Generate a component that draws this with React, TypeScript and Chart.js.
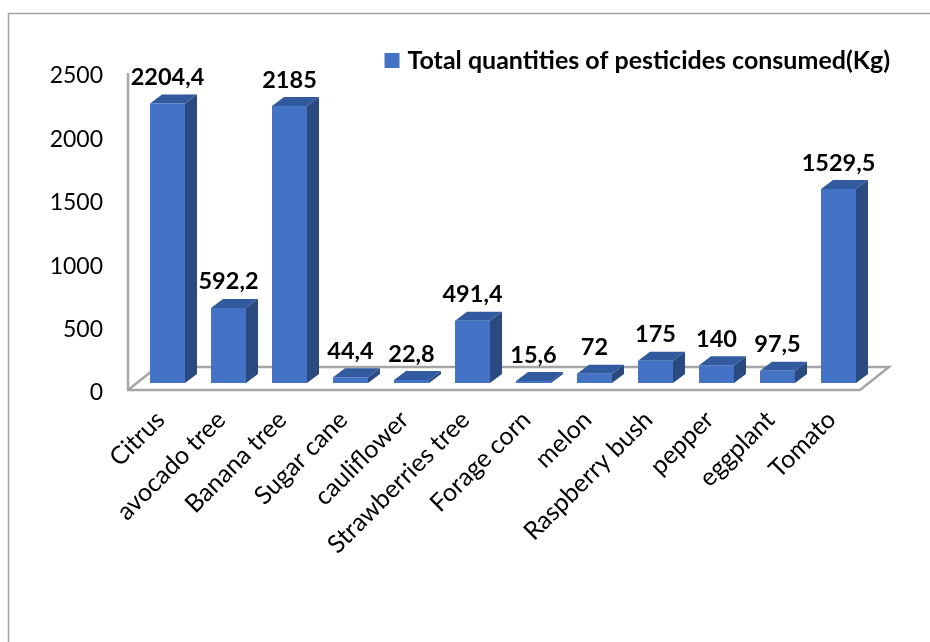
import React, { useEffect, useRef } from "react";
import { Chart, registerables } from "chart.js";

Chart.register(...registerables);

const categories = [
  "Citrus", "avocado tree", "Banana tree", "Sugar cane", "cauliflower", "Strawberries tree",
  "Forage corn", "melon", "Raspberry bush", "pepper", "eggplant", "Tomato",
];
const quantities = [2204.4, 592.2, 2185, 44.4, 22.8, 491.4, 15.6, 72, 175, 140, 97.5, 1529.5];
const seriesName = "Total quantities of pesticides consumed(Kg)";

const FONT = "Lato";
const DEPTH_X = 12;
const DEPTH_Y = 9;

const scene = {
  id: "scene",
  afterLayout(chart: any) {
    const lg = chart.legend;
    if (lg) {
      const h = lg.bottom - lg.top;
      lg.top = 43;
      lg.bottom = 43 + h;
      lg.left += 26;
      lg.right += 26;
    }
  },
  beforeDraw(chart: any) {
    const { ctx } = chart;
    ctx.save();
    ctx.strokeStyle = "#a3a3a3";
    ctx.lineWidth = 1.5;
    ctx.beginPath();
    ctx.moveTo(8.5, 642);
    ctx.lineTo(8.5, 13.5);
    ctx.lineTo(930, 13.5);
    ctx.stroke();
    ctx.restore();
  },
  beforeDatasetsDraw(chart: any) {
    const { ctx, scales } = chart;
    const x = scales.x;
    const y = scales.y;
    const frontY = y.bottom + 7;
    const backY = y.bottom - 16;
    const frontL = x.left - 9;
    const frontR = x.right - 9;
    ctx.save();
    ctx.strokeStyle = "#a6a6a6";
    ctx.lineWidth = 2.5;
    ctx.lineJoin = "miter";
    ctx.beginPath();
    ctx.moveTo(frontL, y.top + 7);
    ctx.lineTo(frontL, frontY);
    ctx.lineTo(frontR, frontY);
    ctx.lineTo(frontR + 29, backY);
    ctx.lineTo(frontL + 29, backY);
    ctx.lineTo(frontL, frontY);
    ctx.stroke();

    chart.getDatasetMeta(0).data.forEach((bar: any) => {
      const l = bar.x - bar.width / 2;
      const r = bar.x + bar.width / 2;
      const t = bar.y;
      const b = bar.base;
      ctx.fillStyle = "#2b4a80";
      ctx.beginPath();
      ctx.moveTo(r, t);
      ctx.lineTo(r + DEPTH_X, t - DEPTH_Y);
      ctx.lineTo(r + DEPTH_X, b - DEPTH_Y);
      ctx.lineTo(r, b);
      ctx.closePath();
      ctx.fill();
      ctx.fillStyle = "#325a9e";
      ctx.beginPath();
      ctx.moveTo(l, t);
      ctx.lineTo(l + DEPTH_X, t - DEPTH_Y);
      ctx.lineTo(r + DEPTH_X, t - DEPTH_Y);
      ctx.lineTo(r, t);
      ctx.closePath();
      ctx.fill();
    });
    ctx.restore();
  },
  afterDatasetsDraw(chart: any) {
    const { ctx } = chart;
    ctx.save();
    ctx.fillStyle = "#000000";
    ctx.font = `bold 23.5px ${FONT}`;
    ctx.textAlign = "center";
    ctx.textBaseline = "middle";
    chart.getDatasetMeta(0).data.forEach((bar: any, i: number) => {
      ctx.fillText(String(quantities[i]).replace(".", ","), bar.x, bar.y - 26);
    });
    ctx.restore();
  },
};

export default function App() {
  const ref = useRef<HTMLCanvasElement>(null);
  useEffect(() => {
    const chart = new Chart(ref.current as HTMLCanvasElement, {
      type: "bar",
      data: {
        labels: categories,
        datasets: [
          {
            label: seriesName,
            data: quantities,
            backgroundColor: "#4472c4",
            barPercentage: 0.574,
            categoryPercentage: 1,
          },
        ],
      },
      options: {
        animation: false,
        responsive: false,
        layout: { padding: { top: 26, right: 61, left: 0, bottom: 0 } },
        scales: {
          x: {
            grid: { display: false },
            border: { display: false },
            afterFit(s: any) { s.height = 259; },
            ticks: {
              color: "#000000",
              font: { family: FONT, size: 25 },
              minRotation: 45,
              maxRotation: 45,
              autoSkip: false,
              padding: 14,
              labelOffset: -7,
            },
          },
          y: {
            min: 0,
            max: 2500,
            grid: { display: false },
            border: { display: false },
            afterFit(s: any) { s.width = 137; },
            ticks: {
              stepSize: 500,
              color: "#000000",
              font: { family: FONT, size: 23 },
              labelOffset: 10,
              padding: 26,
              callback: (v: any) => String(v),
            },
          },
        },
        plugins: {
          tooltip: { enabled: false },
          legend: {
            display: true,
            position: "top",
            align: "end",
            onClick: () => {},
            labels: {
              color: "#000000",
              font: { family: FONT, size: 25, weight: "bold" },
              usePointStyle: true,
              pointStyle: "rect",
              boxWidth: 6,
              boxHeight: 15,
              padding: 5,
            },
          },
        },
      },
      plugins: [scene],
    } as any);
    return () => chart.destroy();
  }, []);
  return (
    <div style={{ position: "absolute", left: 0, top: 0, width: 930, height: 642 }}>
      <canvas ref={ref} width={930} height={642} style={{ display: "block" }} />
    </div>
  );
}
